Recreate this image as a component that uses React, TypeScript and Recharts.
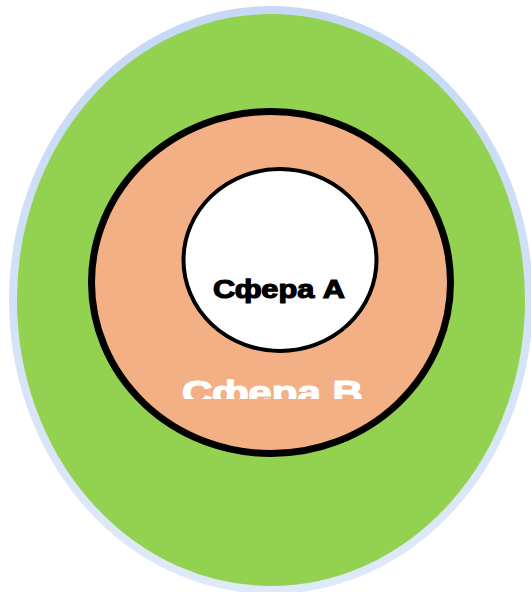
import React from 'react';
import { ScatterChart, Scatter, XAxis, YAxis } from 'recharts';

// Nested spheres (ellipses), in chart units (1 unit = 1 px)
const sphereNames = ['Outer', 'Сфера В', 'Сфера А'];
const centerX = [271, 271, 280];
const centerY = [300, 282.5, 260];
const radiusX = [258, 179.5, 96.5];
const radiusY = [290, 171, 91];

const labelTexts = ['Сфера А', 'Сфера В'];
const labelX = [279, 272.5];
const labelY = [297.5, 403.5];

const ellipseStyles = [
  { fill: '#93d150', stroke: 'url(#outerStroke)', strokeWidth: 8 },
  { fill: '#f3b084', stroke: '#000000', strokeWidth: 7 },
  { fill: '#ffffff', stroke: '#000000', strokeWidth: 4 },
];
const labelStyles = [
  { fill: '#000000', fontSize: 26, width: 132, clip: false, weightStroke: 1.2 },
  { fill: '#ffffff', fontSize: 34, width: 181, clip: true, weightStroke: 1.2 },
];

const ellipseData = sphereNames.map((name, i) => ({
  name,
  x: centerX[i],
  y: centerY[i],
  rx: radiusX[i],
  ry: radiusY[i],
  idx: i,
}));

const labelData = labelTexts.map((text, i) => ({
  text,
  x: labelX[i],
  y: labelY[i],
  idx: i,
}));

const W = 531;
const H = 592;

const EllipseShape = (props: any) => {
  const { cx, cy, payload } = props;
  const s = ellipseStyles[payload.idx];
  return (
    <ellipse
      cx={cx}
      cy={cy}
      rx={payload.rx}
      ry={payload.ry}
      fill={s.fill}
      stroke={s.stroke}
      strokeWidth={s.strokeWidth}
    />
  );
};

const LabelShape = (props: any) => {
  const { cx, cy, payload } = props;
  const s = labelStyles[payload.idx];
  return (
    <text
      x={cx}
      y={cy}
      textAnchor="middle"
      fill={s.fill}
      fontSize={s.fontSize}
      fontWeight="bold"
      fontFamily="'Liberation Sans', Arial, sans-serif"
      stroke={s.fill}
      strokeWidth={s.weightStroke}
      textLength={s.width}
      lengthAdjust="spacingAndGlyphs"
      clipPath={s.clip ? 'url(#clipB)' : undefined}
    >
      {payload.text}
    </text>
  );
};

export default function App() {
  return (
    <div style={{ position: 'absolute', left: 0, top: 0, width: W, height: H, background: '#ffffff' }}>
      <ScatterChart width={W} height={H} margin={{ top: 0, right: 0, bottom: 0, left: 0 }}>
        <defs>
          <linearGradient id="outerStroke" x1="0" y1="0" x2="0" y2="1">
            <stop offset="0%" stopColor="#c5d9f5" />
            <stop offset="100%" stopColor="#dfeaf8" />
          </linearGradient>
          <clipPath id="clipB">
            <rect x={0} y={0} width={W} height={399} />
          </clipPath>
        </defs>
        <XAxis type="number" dataKey="x" domain={[0, W]} hide allowDataOverflow />
        <YAxis type="number" dataKey="y" domain={[0, H]} reversed hide allowDataOverflow />
        <Scatter data={ellipseData} shape={EllipseShape} isAnimationActive={false} />
        <Scatter data={labelData} shape={LabelShape} isAnimationActive={false} />
      </ScatterChart>
    </div>
  );
}
